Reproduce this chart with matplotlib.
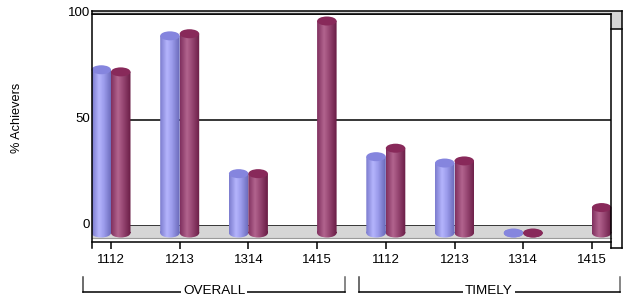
import numpy as np
import matplotlib
matplotlib.use("Agg")
import matplotlib.pyplot as plt
from matplotlib.patches import Rectangle, Ellipse, PathPatch
from matplotlib.path import Path
from matplotlib.lines import Line2D
from matplotlib.colors import LinearSegmentedColormap
import matplotlib.transforms as mtransforms

# data
years = ["1112", "1213", "1314", "1415"]
groups = ["OVERALL", "TIMELY"]
blue_vals = [77, 93, 28, np.nan, 36, 33, 0, np.nan]
maroon_vals = [76, 94, 28, 100, 40, 34, 0, 12]
yticks = [0, 50, 100]

plt.rcParams["font.family"] = ["Liberation Sans", "DejaVu Sans"]
FS = 9.5
W, H = 635, 302
fig = plt.figure(figsize=(W / 100, H / 100), dpi=100)

def fx(px): return px / W
def fy(py): return 1 - py / H

# back wall: x 92..611 px, y 226 (0) .. 14 (100)
ax = fig.add_axes([fx(92), fy(226), fx(611) - fx(92), fy(14) - fy(226)])
step = 68.7  # px per category
lo = -19 / step
ax.set_axisbelow(True)
ax.grid(axis="y", color="black", lw=1.1)
ax.set_yticks(yticks)
ax.set_yticklabels([])
ax.tick_params(axis="y", length=0)
ylab_tr = mtransforms.blended_transform_factory(ax.transAxes, ax.transData) + \
    mtransforms.Affine2D().translate(0, 1.5)
for t in yticks:
    ax.text(-0.004, t, str(t), transform=ylab_tr, ha="right", va="center", fontsize=FS)
for s in ["top", "right", "left"]:
    ax.spines[s].set_visible(False)
ax.spines["bottom"].set_position(("outward", 15.5 * 0.72))
ax.spines["bottom"].set_linewidth(1.1)
x = np.arange(len(years) * len(groups))
ax.set_xticks(x)
ax.set_xticklabels(years * len(groups), fontsize=FS)
ax.tick_params(axis="x", length=6.5 * 0.72, width=1.1, pad=4.5)
fig.text(fx(17), fy(118), "% Achievers", rotation=90, fontsize=9.2, ha="center", va="center")

# floor (grey band in front of the back wall)
ax.add_patch(Rectangle((fx(92), fy(238)), fx(611) - fx(92), fy(226) - fy(238),
                       transform=fig.transFigure, facecolor="#d6d6d6", edgecolor="none",
                       clip_on=False, zorder=0.3))
ax.add_line(Line2D([fx(92), fx(611)], [fy(238), fy(238)], transform=fig.transFigure,
                   color="#9a9a9a", lw=0.8, clip_on=False, zorder=0.35))

# frame pieces
def fline(xs, ys, color="black", lw=1.1):
    fig.add_artist(Line2D([fx(v) for v in xs], [fy(v) for v in ys], color=color, lw=lw))

fig.add_artist(Rectangle((fx(92), fy(14)), fx(622) - fx(92), fy(11) - fy(14),
                         transform=fig.transFigure, facecolor="#d6d6d6", edgecolor="none"))
fig.add_artist(Rectangle((fx(611), fy(29)), fx(622) - fx(611), fy(14) - fy(29),
                         transform=fig.transFigure, facecolor="#d6d6d6", edgecolor="none"))
fline([92, 622], [11, 11])
fline([92, 611], [14, 14])
fline([611, 622], [29, 29])
fline([92, 92], [11, 248])
fline([611, 611], [14, 248])
fline([622, 622], [11, 248])
fline([611, 622], [248, 248])

# cylinders
bar_w = 19.5 / step
ell_h = 9 / 2.12
tr = ax.transData + mtransforms.Affine2D().translate(0, -7)
blue_cmap = LinearSegmentedColormap.from_list(
    "b", [(0, "#7c7cce"), (0.35, "#b4b4fc"), (0.6, "#9c9cec"), (1, "#6868b8")])
maroon_cmap = LinearSegmentedColormap.from_list(
    "m", [(0, "#80305f"), (0.35, "#b2648e"), (0.6, "#984874"), (1, "#681c44")])
grad = np.linspace(0, 1, 64)[None, :]

def cylinder(x0, v, cmap, cap, z):
    xc = x0 + bar_w / 2
    rect = Path([(x0, 0), (x0 + bar_w, 0), (x0 + bar_w, v), (x0, v), (x0, 0)], closed=True)
    ell = Path.unit_circle().transformed(
        mtransforms.Affine2D().scale(bar_w / 2, ell_h / 2).translate(xc, 0))
    clip = PathPatch(Path.make_compound_path(rect, ell), transform=tr,
                     facecolor="none", edgecolor="none", clip_on=False)
    ax.add_patch(clip)
    im = ax.imshow(grad, cmap=cmap, extent=[x0, x0 + bar_w, -ell_h, v + 1], aspect="auto",
                   interpolation="bilinear", transform=tr, zorder=z)
    im.set_clip_box(fig.bbox)
    im.set_clip_path(clip)
    ax.add_patch(Ellipse((xc, v), bar_w, ell_h, transform=tr, facecolor=cap,
                         edgecolor="none", zorder=z + 0.1, clip_on=False))

for i in range(len(x)):
    if not np.isnan(blue_vals[i]):
        cylinder(x[i] - bar_w, blue_vals[i], blue_cmap, "#8585de", 2 + i)
    if not np.isnan(maroon_vals[i]):
        cylinder(x[i], maroon_vals[i], maroon_cmap, "#88295a", 2.5 + i)

ax.set_xlim(lo, lo + 519 / step)
ax.set_ylim(0, 100)

# group brackets
def bracket(x0, x1, label, xt):
    fline([x0, x0], [277, 291.5], color="#444444")
    fline([x1, x1], [277, 291.5], color="#666666")
    fline([x0, x1], [291.5, 291.5])
    fig.text(fx(xt), fy(291), label, fontsize=FS + 0.2, ha="center", va="center",
             bbox=dict(facecolor="white", edgecolor="none", pad=1.5))

bracket(83, 345, groups[0], 214)
bracket(359, 620, groups[1], 489)

fig.savefig("out.png", dpi=100)
